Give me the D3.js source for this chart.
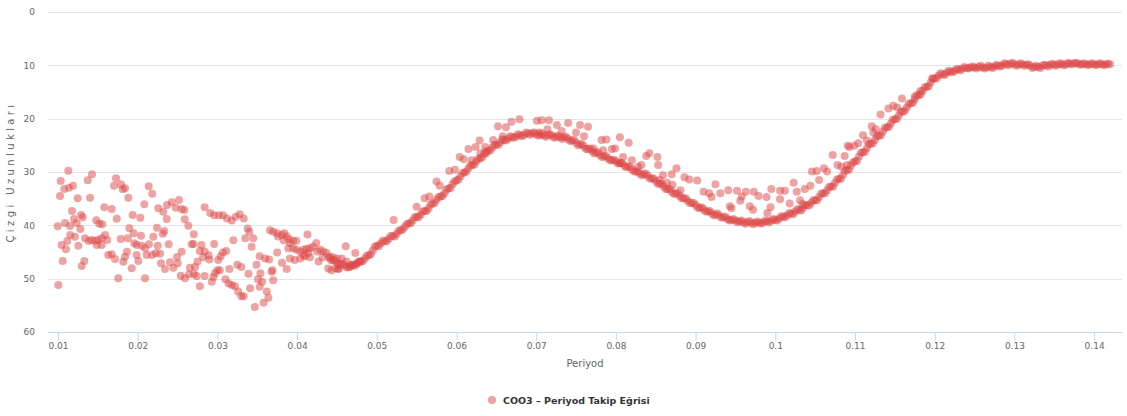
<!DOCTYPE html>
<html>
<head>
<meta charset="utf-8">
<script src="https://cdn.jsdelivr.net/npm/d3@7"></script>
<style>
  html, body { margin: 0; padding: 0; background: #fff; }
  svg { display: block; }
  text { font-family: "DejaVu Sans", Verdana, sans-serif; }
</style>
</head>
<body>
<svg id="chart" width="1127" height="416"></svg>
<script>
// ---------------- DATA ----------------
const seriesName = "COO3 – Periyod Takip Eğrisi";
const xTitle = "Periyod";
const yTitle = "Çizgi Uzunlukları";
const xTickValues = [0.01,0.02,0.03,0.04,0.05,0.06,0.07,0.08,0.09,0.1,0.11,0.12,0.13,0.14];
const xTickLabels = ["0.01","0.02","0.03","0.04","0.05","0.06","0.07","0.08","0.09","0.1","0.11","0.12","0.13","0.14"];
const yTickValues = [0,10,20,30,40,50,60];
const yTickLabels = ["0","10","20","30","40","50","60"];

// scattered cloud at short periods
const earlyCloud = [
[0.01129,29.76],[0.01034,31.69],[0.01079,33.19],[0.01138,32.94],[0.01188,32.57],[0.01025,34.5],
[0.01247,34.93],[0.01373,31.56],[0.01427,30.43],[0.01402,34.82],[0.01728,31.18],[0.01703,32.57],
[0.01790,32.31],[0.01812,33.24],[0.01841,33.06],[0.01882,34.82],[0.02138,32.68],[0.02183,34.07],
[0.02083,36.06],[0.01581,36.62],[0.01674,36.94],[0.01176,37.31],[0.01289,38.06],[0.01310,38.49],
[0.01201,38.81],[0.01235,39.56],[0.01088,39.56],[0.00996,40.18],[0.01151,40.13],[0.01280,40.69],
[0.01481,39.06],[0.01518,39.69],[0.01556,39.81],[0.01737,38.76],[0.01937,38.06],[0.02033,38.57],
[0.02258,36.81],[0.02321,37.44],[0.02368,36.19],[0.02427,35.68],[0.02477,36.69],[0.02518,35.25],
[0.02552,36.94],[0.02585,37.13],[0.02364,38.81],[0.02590,38.87],[0.02635,40.07],[0.02242,40.44],
[0.02334,41.06],[0.02314,41.57],[0.02703,41.68],[0.01154,41.81],[0.01213,42.13],[0.01046,43.69],
[0.01117,42.94],[0.01100,44.49],[0.01255,43.82],[0.01339,42.43],[0.01385,42.94],[0.01423,42.75],
[0.01464,42.88],[0.01506,42.75],[0.01548,42.43],[0.01590,41.81],[0.01619,42.75],[0.01486,43.69],
[0.01548,43.69],[0.01631,45.56],[0.01674,45.43],[0.01715,46.31],[0.01787,42.56],[0.01875,42.43],
[0.01895,40.56],[0.01950,41.49],[0.02041,41.94],[0.01957,43.37],[0.01987,43.69],[0.02050,43.82],
[0.02092,44.31],[0.02142,43.56],[0.02196,42.13],[0.02251,43.82],[0.02280,45.32],[0.02226,45.24],
[0.02179,45.56],[0.02113,45.56],[0.01987,45.56],[0.02008,46.69],[0.01866,44.94],[0.01841,45.88],
[0.01819,46.82],[0.01925,48.06],[0.01757,49.93],[0.02092,49.93],[0.01004,51.19],[0.01059,46.69],
[0.01297,47.63],[0.01330,46.69],[0.02389,43.56],[0.02292,47.12],[0.02343,48.19],[0.02405,46.93],
[0.02447,47.94],[0.02502,47.12],[0.02493,45.94],[0.02552,44.94],[0.02540,49.44],[0.02593,49.93],
[0.02644,49.18],[0.02706,49.18],[0.02678,43.56],[0.02656,47.94],
[0.0284,36.6],[0.0291,37.7],[0.0296,38.1],[0.0302,38.1],[0.0307,38.1],[0.0312,38.7],[0.0318,39.1],
[0.0323,38.4],[0.0328,37.9],[0.0333,38.7],[0.0338,40.6],[0.0340,41.2],[0.0335,42.4],[0.0320,42.8],
[0.0296,43.5],[0.0270,43.5],[0.0280,43.7],[0.0284,44.9],[0.0282,46.0],[0.0289,45.6],[0.0290,46.4],
[0.0278,44.8],[0.0275,46.8],[0.0272,47.8],[0.0307,45.1],[0.0311,44.8],[0.0304,45.8],[0.0301,46.5],
[0.0343,44.0],[0.0345,42.4],[0.0353,45.8],[0.0360,46.2],[0.0365,46.4],[0.0349,47.4],[0.0325,47.4],
[0.0330,47.8],[0.0315,48.2],[0.0303,48.4],[0.0300,48.4],[0.0297,49.0],[0.0295,49.7],[0.0274,49.5],
[0.0284,49.5],[0.0278,51.4],[0.0293,50.6],[0.0310,50.1],[0.0314,50.9],[0.0318,51.2],[0.0322,51.4],
[0.0326,52.4],[0.0330,53.3],[0.0333,53.3],[0.0339,49.1],[0.0341,51.8],[0.0354,49.0],[0.0356,50.6],
[0.0351,50.1],[0.0353,51.5],[0.0362,52.4],[0.0364,53.6],[0.0358,54.5],[0.0347,55.3],[0.0369,48.4],
[0.0370,50.3],[0.0368,48.7],[0.0375,45.1],[0.0381,47.0],[0.0387,48.2]
];

// band where the cloud merges into the curve
const transitionBand = [
[0.0366,40.9],[0.0370,41.2],[0.0375,41.5],[0.0381,41.8],[0.0384,41.5],[0.0387,42.1],[0.0390,42.6],
[0.0395,42.9],[0.0399,42.9],[0.0413,41.7],[0.0376,42.1],[0.0383,42.8],[0.0391,43.3],[0.0389,44.3],
[0.0395,44.3],[0.0399,44.6],[0.0404,44.9],[0.0408,44.6],[0.0412,44.4],[0.0416,44.3],[0.0420,44.0],
[0.0424,43.3],[0.0429,44.6],[0.0433,44.9],[0.0437,45.2],[0.0441,45.9],[0.0445,46.0],[0.0450,46.2],
[0.0452,48.1],[0.0439,48.1],[0.0427,46.8],[0.0391,46.2],[0.0397,46.5],[0.0404,46.2],[0.0410,45.8],
[0.0414,45.2],[0.0416,46.0],[0.0408,45.6],[0.0425,44.9],[0.0432,46.0],[0.0448,48.1],[0.0452,48.2],
[0.0443,48.4],[0.0456,46.2],[0.0462,46.8],[0.0466,47.8],[0.0470,47.4],[0.0475,47.1],[0.0479,46.8],
[0.0461,43.9],[0.0473,45.2],[0.0521,39.0]
];

// main tracking curve (first pass of readings)
const mainCurve = [
[0.0440,46.1],[0.0445,46.6],[0.0450,47.0],[0.0455,47.3],[0.0460,47.6],[0.0465,47.8],[0.0470,47.5],
[0.0475,47.2],[0.0480,46.8],[0.0485,46.2],[0.0490,45.6],[0.0495,44.7],[0.0500,43.8],[0.0505,43.4],
[0.0510,43.0],[0.0515,42.5],[0.0520,42.0],[0.0525,41.6],[0.0530,40.9],[0.0535,40.3],[0.0540,39.6],
[0.0545,39.1],[0.0550,38.4],[0.0555,38.0],[0.0560,37.3],[0.0565,36.8],[0.0570,35.9],[0.0575,35.2],
[0.0580,34.6],[0.0585,34.0],[0.0590,33.1],[0.0595,32.3],[0.0600,31.6],[0.0605,30.8],[0.0610,30.1],
[0.0615,29.3],[0.0620,28.7],[0.0625,28.0],[0.0630,27.4],[0.0635,26.6],[0.0640,26.0],[0.0645,25.4],
[0.0650,24.9],[0.0655,24.4],[0.0660,24.0],[0.0665,23.7],[0.0670,23.5],[0.0675,23.3],[0.0680,23.1],
[0.0685,23.0],[0.0690,22.8],[0.0695,22.7],[0.0700,22.9],[0.0705,23.0],[0.0710,23.2],[0.0715,23.0],
[0.0720,23.2],[0.0725,23.4],[0.0730,23.5],[0.0735,23.5],[0.0740,23.8],[0.0745,24.1],[0.0750,24.5],
[0.0755,24.8],[0.0760,25.2],[0.0765,25.7],[0.0770,26.0],[0.0775,26.4],[0.0780,26.8],[0.0785,27.1],
[0.0790,27.4],[0.0795,27.8],[0.0800,28.0],[0.0805,28.3],[0.0810,28.7],[0.0815,29.0],[0.0820,29.5],
[0.0825,29.9],[0.0830,30.3],[0.0835,30.4],[0.0840,30.7],[0.0845,31.2],[0.0850,31.7],[0.0855,32.2],
[0.0860,32.7],[0.0865,33.2],[0.0870,33.7],[0.0875,34.1],[0.0880,34.5],[0.0885,34.9],[0.0890,35.4],
[0.0895,35.8],[0.0900,36.2],[0.0905,36.7],[0.0910,37.0],[0.0915,37.4],[0.0920,37.7],[0.0925,38.0],
[0.0930,38.2],[0.0935,38.5],[0.0940,38.8],[0.0945,39.0],[0.0950,39.1],[0.0955,39.3],[0.0960,39.4],
[0.0965,39.4],[0.0970,39.5],[0.0975,39.5],[0.0980,39.5],[0.0985,39.4],[0.0990,39.3],[0.0995,39.1],
[0.1000,39.0],[0.1005,38.7],[0.1010,38.4],[0.1015,38.1],[0.1020,37.8],[0.1025,37.4],[0.1030,37.1],
[0.1035,36.7],[0.1040,36.2],[0.1045,35.8],[0.1050,35.3],[0.1055,34.7],[0.1060,34.0],[0.1065,33.4],
[0.1070,32.7],[0.1075,32.0],[0.1080,31.3],[0.1085,30.5],[0.1090,29.6],[0.1095,28.8],[0.1100,28.0],
[0.1105,27.1],[0.1110,26.3],[0.1115,25.5],[0.1120,24.7],[0.1125,24.0],[0.1130,23.2],[0.1135,22.4],
[0.1140,21.6],[0.1145,20.9],[0.1150,20.1],[0.1155,19.4],[0.1160,18.7],[0.1165,17.9],[0.1170,17.1],
[0.1175,16.4],[0.1180,15.6],[0.1185,14.8],[0.1190,14.0],[0.1195,13.2],[0.1200,12.4],[0.1205,11.9],
[0.1210,11.7],[0.1215,11.4],[0.1220,11.2],[0.1225,11.0],[0.1230,10.8],[0.1235,10.6],[0.1240,10.5],
[0.1245,10.4],[0.1250,10.4],[0.1255,10.3],[0.1260,10.4],[0.1265,10.4],[0.1270,10.3],[0.1275,10.2],
[0.1280,10.1],[0.1285,10.0],[0.1290,9.8],[0.1295,9.7],[0.1300,9.8],[0.1305,9.9],[0.1310,9.8],
[0.1315,9.9],[0.1320,10.1],[0.1325,10.3],[0.1330,10.3],[0.1335,10.1],[0.1340,10.0],[0.1345,9.9],
[0.1350,9.9],[0.1355,9.8],[0.1360,9.8],[0.1365,9.8],[0.1370,9.7],[0.1375,9.6],[0.1380,9.7],
[0.1385,9.8],[0.1390,9.8],[0.1395,9.8],[0.1400,9.8],[0.1405,9.8],[0.1410,9.8],[0.1415,9.8],[0.1420,9.8]
];

// main tracking curve (second pass, in between the first)
const mainCurveB = [
[0.04425,46.5],[0.04475,46.6],[0.04525,47.4],[0.04575,47.2],[0.04625,47.9],[0.04675,47.4],[0.04725,47.6],
[0.04775,46.8],[0.04825,46.7],[0.04875,45.7],[0.04925,45.4],[0.04975,44.0],[0.05025,43.9],[0.05075,42.9],
[0.05125,43.0],[0.05175,42.0],[0.05225,42.1],[0.05275,41.0],[0.05325,40.8],[0.05375,39.8],[0.05425,39.6],
[0.05475,38.5],[0.05525,38.5],[0.05575,37.4],[0.05625,37.3],[0.05675,36.1],[0.05725,35.8],[0.05775,34.7],
[0.05825,34.5],[0.05875,33.3],[0.05925,33.0],[0.05975,31.8],[0.06025,31.4],[0.06075,30.2],[0.06125,29.9],
[0.06175,28.8],[0.06225,28.6],[0.06275,27.5],[0.06325,27.2],[0.06375,26.1],[0.06425,25.9],[0.06475,24.9],
[0.06525,24.9],[0.06575,23.9],[0.06625,24.1],[0.06675,23.3],[0.06725,23.6],[0.06775,22.9],[0.06825,23.3],
[0.06875,22.6],[0.06925,23.0],[0.06975,22.6],[0.07025,23.2],[0.07075,22.8],[0.07125,23.4],[0.07175,22.9],
[0.07225,23.6],[0.07275,23.2],[0.07325,23.8],[0.07375,23.4],[0.07425,24.2],[0.07475,24.0],[0.07525,25.0],
[0.07575,24.8],[0.07625,25.7],[0.07675,25.6],[0.07725,26.5],[0.07775,26.3],[0.07825,27.2],[0.07875,27.0],
[0.07925,27.8],[0.07975,27.7],[0.08025,28.4],[0.08075,28.3],[0.08125,29.1],[0.08175,29.0],[0.08225,29.9],
[0.08275,29.9],[0.08325,30.6],[0.08375,30.3],[0.08425,31.2],[0.08475,31.2],[0.08525,32.2],[0.08575,32.2],
[0.08625,33.2],[0.08675,33.2],[0.08725,34.1],[0.08775,34.0],[0.08825,34.9],[0.08875,34.9],[0.08925,35.8],
[0.08975,35.8],[0.09025,36.7],[0.09075,36.6],[0.09125,37.4],[0.09175,37.3],[0.09225,38.1],[0.09275,37.8],
[0.09325,38.6],[0.09375,38.4],[0.09425,39.1],[0.09475,38.8],[0.09525,39.4],[0.09575,39.1],[0.09625,39.7],
[0.09675,39.2],[0.09725,39.8],[0.09775,39.3],[0.09825,39.7],[0.09875,39.1],[0.09925,39.4],[0.09975,38.8],
[0.10025,39.1],[0.10075,38.3],[0.10125,38.5],[0.10175,37.7],[0.10225,37.9],[0.10275,37.0],[0.10325,37.2],
[0.10375,36.2],[0.10425,36.3],[0.10475,35.3],[0.10525,35.3],[0.10575,34.1],[0.10625,34.0],[0.10675,32.8],
[0.10725,32.7],[0.10775,31.4],[0.10825,31.2],[0.10875,29.8],[0.10925,29.6],[0.10975,28.2],[0.11025,27.9],
[0.11075,26.4],[0.11125,26.2],[0.11175,24.8],[0.11225,24.6],[0.11275,23.3],[0.11325,23.1],[0.11375,21.7],
[0.11425,21.5],[0.11475,20.2],[0.11525,20.0],[0.11575,18.7],[0.11625,18.5],[0.11675,17.2],[0.11725,17.0],
[0.11775,15.6],[0.11825,15.4],[0.11875,14.1],[0.11925,13.9],[0.11975,12.6],[0.12025,12.4],[0.12075,11.5],
[0.12125,11.8],[0.12175,11.0],[0.12225,11.3],[0.12275,10.7],[0.12325,10.9],[0.12375,10.3],[0.12425,10.6],
[0.12475,10.2],[0.12525,10.6],[0.12575,10.1],[0.12625,10.6],[0.12675,10.1],[0.12725,10.5],[0.12775,9.9],
[0.12825,10.2],[0.12875,9.6],[0.12925,10.0],[0.12975,9.5],[0.13025,10.1],[0.13075,9.6],[0.13125,10.1],
[0.13175,9.8],[0.13225,10.5],[0.13275,10.1],[0.13325,10.5],[0.13375,9.9],[0.13425,10.2],[0.13475,9.7],
[0.13525,10.1],[0.13575,9.6],[0.13625,10.0],[0.13675,9.5],[0.13725,9.8],[0.13775,9.5],[0.13825,9.9],
[0.13875,9.6],[0.13925,10.0],[0.13975,9.6],[0.14025,10.0],[0.14075,9.6],[0.14125,10.0],[0.14175,9.7]
];

// scattered points above the curve
const upperOutliers = [
[0.0550,36.5],[0.0560,34.9],[0.0566,34.6],[0.0575,31.8],[0.0579,32.6],[0.0591,29.8],[0.0598,29.6],
[0.0604,27.2],[0.0609,27.6],[0.0615,25.7],[0.0619,27.8],[0.0624,25.3],[0.0629,24.1],[0.0630,26.5],
[0.0636,25.3],[0.0637,26.5],[0.0646,24.0],[0.0652,21.4],[0.0658,23.3],[0.0662,21.6],[0.0669,20.6],
[0.0679,20.1],[0.0701,20.4],[0.0707,20.3],[0.0716,20.3],[0.0714,22.0],[0.0704,22.6],
[0.0726,21.2],[0.0740,20.8],[0.0755,21.2],[0.0765,21.5],[0.0732,22.3],[0.0750,22.6],[0.0760,23.3],
[0.0782,24.0],[0.0788,23.9],[0.0805,23.5],[0.0816,24.5],[0.0795,25.7],[0.0799,25.6],[0.0784,25.9],
[0.0772,25.6],[0.0809,27.2],[0.0820,27.8],[0.0805,28.3],[0.0842,26.5],[0.0838,27.0],[0.0852,27.2],
[0.0853,28.7],[0.0832,28.7],[0.0828,29.0],[0.0876,29.3],[0.0870,30.4],[0.0859,30.6],[0.0886,31.0],
[0.0892,31.4],[0.0902,31.6],[0.0864,32.0],[0.0855,31.5],[0.0871,32.4],[0.0881,33.4],[0.0925,32.3],
[0.0910,33.7],[0.0917,34.0],[0.0920,34.7],[0.0931,34.0],[0.0941,33.4],[0.0952,33.5],[0.0963,33.7],
[0.0973,33.7],[0.0958,34.6],[0.0956,35.4],[0.0979,34.5],[0.0989,34.7],[0.0995,33.2],[0.1006,33.5],
[0.1012,33.5],[0.1027,33.7],[0.1037,33.2],[0.1044,32.6],[0.1023,32.0],[0.1006,35.1],[0.0994,36.6],
[0.0968,36.4],[0.0943,36.4],[0.0945,36.8],[0.0990,37.7],[0.0972,37.1],[0.1031,35.3],[0.1034,36.0],
[0.1055,31.5],[0.1046,29.9],[0.1052,29.8],[0.1061,29.3],[0.1065,29.9],[0.1072,26.8],[0.1078,28.7],
[0.1087,27.0],[0.1090,28.7],[0.1091,25.1],[0.1018,35.9],
[0.1083,29.0],[0.1093,25.3],[0.1099,25.1],[0.1104,24.6],[0.1110,23.1],[0.1115,24.1],[0.1121,21.4],
[0.1126,22.0],[0.1132,19.2],[0.1142,18.1],[0.1148,17.6],[0.1153,17.9],[0.1159,16.2],[0.1175,15.9],
[0.1182,14.8],[0.1197,12.4],[0.1123,22.6]
];

// ---------------- CHART ----------------
const svg = d3.select("#chart");
const plot = { left: 48, right: 1122, top: 12, bottom: 332 };

const x = d3.scaleLinear().domain([0.008745, 0.14350]).range([plot.left, plot.right]);
const y = d3.scaleLinear().domain([0, 60]).range([plot.top, plot.bottom]);

// grid lines
svg.append("g").selectAll("line").data(yTickValues.filter(v => v !== 60)).join("line")
  .attr("x1", plot.left).attr("x2", plot.right)
  .attr("y1", d => Math.round(y(d)) + 0.5).attr("y2", d => Math.round(y(d)) + 0.5)
  .attr("stroke", "#e6e6e6").attr("stroke-width", 1);

// y axis labels
const yAxis = d3.axisLeft(y).tickValues(yTickValues).tickSize(0).tickPadding(0)
  .tickFormat((d, i) => yTickLabels[i]);
const gy = svg.append("g").attr("transform", `translate(${plot.left - 13},0)`).call(yAxis);
gy.select(".domain").remove();
gy.selectAll("text").attr("fill", "#666").style("font-size", "9px")
  .style("font-family", "DejaVu Sans, sans-serif");

// x axis
const xAxis = d3.axisBottom(x).tickValues(xTickValues).tickSize(8).tickPadding(2)
  .tickFormat((d, i) => xTickLabels[i]);
const gx = svg.append("g").attr("transform", `translate(0,${plot.bottom + 0.5})`).call(xAxis);
gx.select(".domain").attr("stroke", "#ccd6eb").attr("d", `M${plot.left},0H${plot.right}`);
gx.selectAll(".tick line").attr("stroke", "#ccd6eb");
gx.selectAll("text").attr("fill", "#666").style("font-size", "9px")
  .style("font-family", "DejaVu Sans, sans-serif");

// titles
svg.append("text").attr("x", 585).attr("y", 367)
  .attr("text-anchor", "middle").attr("fill", "#666").style("font-size", "10px").text(xTitle);
svg.append("text").attr("transform", `translate(14,${(plot.top + plot.bottom) / 2}) rotate(-90)`)
  .attr("text-anchor", "middle").attr("fill", "#666").style("font-size", "10px")
  .style("letter-spacing", "3.4px").text(yTitle);

// points
const color = "rgb(222,72,72)";
const allPoints = [].concat(earlyCloud, transitionBand, upperOutliers, mainCurve, mainCurveB);
svg.append("g").selectAll("circle").data(allPoints).join("circle")
  .attr("cx", d => x(d[0])).attr("cy", d => y(d[1])).attr("r", 4)
  .attr("fill", color).attr("fill-opacity", 0.5);

// legend
const lg = svg.append("g").attr("transform", "translate(492,400)");
lg.append("circle").attr("r", 4).attr("fill", color).attr("fill-opacity", 0.5);
lg.append("text").attr("x", 11).attr("y", 3.5).attr("fill", "#333")
  .style("font-size", "9.5px").style("font-weight", "bold").text(seriesName);
</script>
</body>
</html>
